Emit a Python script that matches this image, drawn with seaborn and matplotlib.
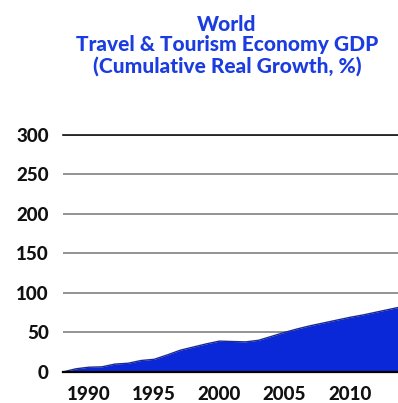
import matplotlib
matplotlib.use("Agg")
import matplotlib.pyplot as plt
import seaborn as sns
import pandas as pd

# Cumulative real growth of world travel & tourism economy GDP (%)
years = [1988, 1989, 1990, 1991, 1992, 1993, 1994, 1995, 1996, 1997, 1998,
         1999, 2000, 2001, 2002, 2003, 2004, 2005, 2006, 2007, 2008, 2009,
         2010, 2011, 2012, 2013, 2014]
growth = [0, 4, 6, 6.5, 10, 11, 14.5, 16, 21.5, 27.5, 31.5,
          35.5, 39, 38.5, 38, 40, 45, 50, 54.5, 58.5, 62, 65.5,
          69, 72, 75.5, 79, 82.5]
y_ticks = [0, 50, 100, 150, 200, 250, 300]
x_ticks = [1990, 1995, 2000, 2005, 2010]
title_lines = ["World", "Travel & Tourism Economy GDP", "(Cumulative Real Growth, %)"]

df = pd.DataFrame({"year": years, "growth": growth})

sns.set_theme(style="white")
plt.rcParams["font.family"] = ["Lato", "DejaVu Sans"]

fig = plt.figure(figsize=(3.98, 4.03), dpi=100)
ax = fig.add_axes([0.158, 0.077, 0.842, 0.589])

fill_color = "#0a28d8"
ax.fill_between(df["year"], 0, df["growth"], color=fill_color, linewidth=0, zorder=2)
sns.lineplot(data=df, x="year", y="growth", ax=ax, color="#1c2a8a", linewidth=1.0, zorder=3)

ax.set_xlim(1988, 2013.7)
ax.set_ylim(0, 300)
ax.set_xticks(x_ticks)
ax.set_yticks(y_ticks)
ax.set_xlabel("")
ax.set_ylabel("")

ax.yaxis.grid(True, color="#808080", linewidth=1.2, zorder=1)
ax.xaxis.grid(False)
ax.set_axisbelow(True)

for side in ["left", "right"]:
    ax.spines[side].set_visible(False)
ax.spines["top"].set_color("#111111")
ax.spines["top"].set_linewidth(1.2)
ax.spines["bottom"].set_color("#000000")
ax.spines["bottom"].set_linewidth(1.6)
ax.spines["bottom"].set_zorder(4)

ax.tick_params(axis="both", length=0, labelsize=13.5, colors="#111111")
ax.tick_params(axis="y", pad=10)
ax.tick_params(axis="x", pad=10)
for lab in ax.get_xticklabels() + ax.get_yticklabels():
    lab.set_fontweight("black")

fig.text(0.57, 0.964, "\n".join(title_lines), ha="center", va="top",
         fontsize=15, fontweight="black", color="#1a3ce0", linespacing=1.1)

fig.savefig("out.png", dpi=100)
